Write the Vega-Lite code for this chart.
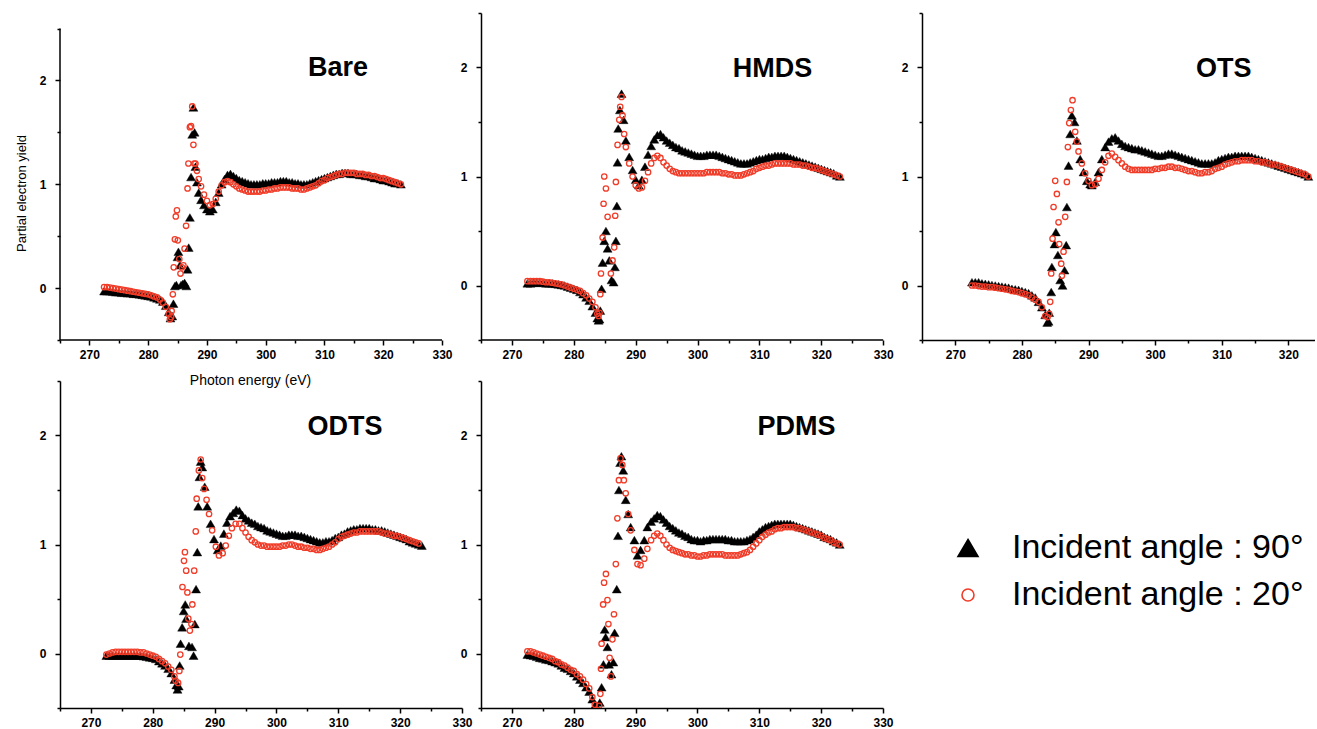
{
"$schema": "https://vega.github.io/schema/vega-lite/v6.json",
"background": "white",
"padding": {"left": 15, "top": 7, "right": 0, "bottom": 0},
"config": {
  "view": {"stroke": null},
  "font": "Liberation Sans",
  "axis": {"grid": false, "domainColor": "black", "domainWidth": 1.5, "tickColor": "black", "tickWidth": 1.5, "tickSize": 4, "labelFont": "Liberation Sans", "labelFontSize": 12, "labelFontWeight": "bold", "labelColor": "black", "titleFont": "Liberation Sans", "titleFontSize": 12, "titleFontWeight": "normal", "titleColor": "black", "labelFlush": false, "labelOverlap": false, "tickCount": 40},
  "axisX": {"labelPadding": 4, "labelExpr": "datum.value % 10 === 0 ? format(datum.value, 'd') : ''", "tickSize": {"condition": {"test": "datum.value % 10 === 0", "value": 5}, "value": 3}},
  "axisY": {"labelPadding": 9, "labelExpr": "datum.value % 1 === 0 ? format(datum.value, 'd') : ''", "tickSize": {"condition": {"test": "datum.value % 1 === 0", "value": 5}, "value": 3}}
},
"datasets": {
"B90": [{"x":272.5,"y":-0.03},{"x":273,"y":-0.03},{"x":273.5,"y":-0.03},{"x":274,"y":-0.035},{"x":274.5,"y":-0.04},{"x":275,"y":-0.04},{"x":275.5,"y":-0.045},{"x":276,"y":-0.045},{"x":276.5,"y":-0.05},{"x":277,"y":-0.05},{"x":277.5,"y":-0.055},{"x":278,"y":-0.055},{"x":278.5,"y":-0.06},{"x":279,"y":-0.065},{"x":279.5,"y":-0.07},{"x":280,"y":-0.075},{"x":280.5,"y":-0.08},{"x":281,"y":-0.09},{"x":281.5,"y":-0.1},{"x":282,"y":-0.11},{"x":282.5,"y":-0.13},{"x":283,"y":-0.17},{"x":283.5,"y":-0.23},{"x":283.8,"y":-0.29},{"x":284.1,"y":-0.27},{"x":284.3,"y":-0.15},{"x":284.55,"y":0.02},{"x":284.8,"y":0.03},{"x":285.0,"y":0.3},{"x":285.15,"y":0.35},{"x":285.4,"y":0.22},{"x":285.6,"y":0.03},{"x":285.9,"y":0.04},{"x":286.2,"y":0.05},{"x":286.5,"y":0.02},{"x":286.7,"y":0.18},{"x":286.9,"y":0.39},{"x":287.1,"y":0.68},{"x":287.3,"y":1.07},{"x":287.5,"y":1.48},{"x":287.7,"y":1.74},{"x":287.9,"y":1.5},{"x":288.05,"y":1.17},{"x":288.3,"y":1.02},{"x":288.6,"y":0.92},{"x":289,"y":0.85},{"x":289.5,"y":0.8},{"x":290,"y":0.76},{"x":290.5,"y":0.74},{"x":291,"y":0.76},{"x":291.5,"y":0.83},{"x":292,"y":0.92},{"x":292.5,"y":1.0},{"x":293,"y":1.05},{"x":293.5,"y":1.09},{"x":294,"y":1.1},{"x":294.5,"y":1.08},{"x":295,"y":1.06},{"x":295.5,"y":1.04},{"x":296,"y":1.03},{"x":296.5,"y":1.02},{"x":297,"y":1.01},{"x":297.5,"y":1.0},{"x":298,"y":1.0},{"x":298.5,"y":1.0},{"x":299,"y":1.0},{"x":299.5,"y":1.01},{"x":300,"y":1.01},{"x":300.5,"y":1.01},{"x":301,"y":1.02},{"x":301.5,"y":1.02},{"x":302,"y":1.02},{"x":302.5,"y":1.03},{"x":303,"y":1.03},{"x":303.5,"y":1.03},{"x":304,"y":1.02},{"x":304.5,"y":1.02},{"x":305,"y":1.01},{"x":305.5,"y":1.01},{"x":306,"y":1.0},{"x":306.5,"y":1.0},{"x":307,"y":1.0},{"x":307.5,"y":1.01},{"x":308,"y":1.02},{"x":308.5,"y":1.03},{"x":309,"y":1.04},{"x":309.5,"y":1.05},{"x":310,"y":1.06},{"x":310.5,"y":1.07},{"x":311,"y":1.08},{"x":311.5,"y":1.09},{"x":312,"y":1.1},{"x":312.5,"y":1.1},{"x":313,"y":1.11},{"x":313.5,"y":1.11},{"x":314,"y":1.11},{"x":314.5,"y":1.1},{"x":315,"y":1.1},{"x":315.5,"y":1.1},{"x":316,"y":1.09},{"x":316.5,"y":1.09},{"x":317,"y":1.08},{"x":317.5,"y":1.08},{"x":318,"y":1.07},{"x":318.5,"y":1.06},{"x":319,"y":1.06},{"x":319.5,"y":1.05},{"x":320,"y":1.04},{"x":320.5,"y":1.04},{"x":321,"y":1.03},{"x":321.5,"y":1.02},{"x":322,"y":1.01},{"x":322.5,"y":1.01},{"x":323,"y":1.0}],
"B20": [{"x":272.5,"y":0.01},{"x":273,"y":0.01},{"x":273.5,"y":0.005},{"x":274,"y":0.0},{"x":274.5,"y":-0.005},{"x":275,"y":-0.01},{"x":275.5,"y":-0.015},{"x":276,"y":-0.02},{"x":276.5,"y":-0.025},{"x":277,"y":-0.03},{"x":277.5,"y":-0.035},{"x":278,"y":-0.04},{"x":278.5,"y":-0.045},{"x":279,"y":-0.05},{"x":279.5,"y":-0.055},{"x":280,"y":-0.06},{"x":280.5,"y":-0.07},{"x":281,"y":-0.08},{"x":281.5,"y":-0.09},{"x":282,"y":-0.11},{"x":282.5,"y":-0.14},{"x":283,"y":-0.18},{"x":283.5,"y":-0.25},{"x":283.7,"y":-0.3},{"x":283.9,"y":-0.28},{"x":284.0,"y":-0.22},{"x":284.2,"y":-0.06},{"x":284.35,"y":0.2},{"x":284.55,"y":0.47},{"x":284.7,"y":0.69},{"x":284.9,"y":0.75},{"x":285.05,"y":0.46},{"x":285.3,"y":0.28},{"x":285.5,"y":0.14},{"x":285.75,"y":0.2},{"x":286.0,"y":0.22},{"x":286.2,"y":0.38},{"x":286.45,"y":0.6},{"x":286.7,"y":0.96},{"x":286.85,"y":1.2},{"x":287.1,"y":1.55},{"x":287.3,"y":1.56},{"x":287.5,"y":1.75},{"x":287.7,"y":1.38},{"x":287.85,"y":1.2},{"x":288.05,"y":1.2},{"x":288.3,"y":1.13},{"x":288.6,"y":1.05},{"x":289,"y":0.98},{"x":289.5,"y":0.9},{"x":290,"y":0.84},{"x":290.5,"y":0.8},{"x":291,"y":0.81},{"x":291.5,"y":0.86},{"x":292,"y":0.93},{"x":292.5,"y":0.99},{"x":293,"y":1.02},{"x":293.5,"y":1.03},{"x":294,"y":1.02},{"x":294.5,"y":1.0},{"x":295,"y":0.98},{"x":295.5,"y":0.96},{"x":296,"y":0.95},{"x":296.5,"y":0.94},{"x":297,"y":0.93},{"x":297.5,"y":0.93},{"x":298,"y":0.93},{"x":298.5,"y":0.93},{"x":299,"y":0.93},{"x":299.5,"y":0.94},{"x":300,"y":0.94},{"x":300.5,"y":0.95},{"x":301,"y":0.95},{"x":301.5,"y":0.96},{"x":302,"y":0.96},{"x":302.5,"y":0.97},{"x":303,"y":0.97},{"x":303.5,"y":0.97},{"x":304,"y":0.97},{"x":304.5,"y":0.96},{"x":305,"y":0.96},{"x":305.5,"y":0.96},{"x":306,"y":0.95},{"x":306.5,"y":0.95},{"x":307,"y":0.96},{"x":307.5,"y":0.97},{"x":308,"y":0.98},{"x":308.5,"y":0.99},{"x":309,"y":1.01},{"x":309.5,"y":1.03},{"x":310,"y":1.04},{"x":310.5,"y":1.06},{"x":311,"y":1.07},{"x":311.5,"y":1.08},{"x":312,"y":1.09},{"x":312.5,"y":1.1},{"x":313,"y":1.1},{"x":313.5,"y":1.11},{"x":314,"y":1.11},{"x":314.5,"y":1.11},{"x":315,"y":1.11},{"x":315.5,"y":1.1},{"x":316,"y":1.1},{"x":316.5,"y":1.1},{"x":317,"y":1.09},{"x":317.5,"y":1.09},{"x":318,"y":1.08},{"x":318.5,"y":1.08},{"x":319,"y":1.07},{"x":319.5,"y":1.06},{"x":320,"y":1.06},{"x":320.5,"y":1.05},{"x":321,"y":1.04},{"x":321.5,"y":1.03},{"x":322,"y":1.02},{"x":322.5,"y":1.01},{"x":323,"y":1.0}],
"H90": [{"x":272.5,"y":0.02},{"x":273,"y":0.02},{"x":273.5,"y":0.025},{"x":274,"y":0.025},{"x":274.5,"y":0.025},{"x":275,"y":0.025},{"x":275.5,"y":0.02},{"x":276,"y":0.02},{"x":276.5,"y":0.02},{"x":277,"y":0.015},{"x":277.5,"y":0.01},{"x":278,"y":0.005},{"x":278.5,"y":0.0},{"x":279,"y":-0.01},{"x":279.5,"y":-0.02},{"x":280,"y":-0.03},{"x":280.5,"y":-0.04},{"x":281,"y":-0.06},{"x":281.5,"y":-0.08},{"x":282,"y":-0.11},{"x":282.5,"y":-0.14},{"x":283,"y":-0.19},{"x":283.5,"y":-0.25},{"x":283.8,"y":-0.3},{"x":284.0,"y":-0.32},{"x":284.15,"y":-0.31},{"x":284.28,"y":-0.23},{"x":284.49,"y":-0.03},{"x":284.65,"y":0.21},{"x":284.92,"y":0.41},{"x":285.19,"y":0.5},{"x":285.46,"y":0.34},{"x":285.73,"y":0.23},{"x":286.1,"y":0.05},{"x":286.43,"y":0.03},{"x":286.64,"y":0.17},{"x":286.8,"y":0.41},{"x":286.96,"y":0.73},{"x":287.07,"y":1.13},{"x":287.18,"y":1.44},{"x":287.45,"y":1.61},{"x":287.71,"y":1.76},{"x":288.04,"y":1.52},{"x":288.41,"y":1.33},{"x":288.95,"y":1.18},{"x":289.5,"y":1.06},{"x":290,"y":0.97},{"x":290.5,"y":0.92},{"x":291,"y":0.97},{"x":291.5,"y":1.09},{"x":292,"y":1.2},{"x":292.5,"y":1.28},{"x":293,"y":1.34},{"x":293.5,"y":1.38},{"x":294,"y":1.39},{"x":294.5,"y":1.36},{"x":295,"y":1.33},{"x":295.5,"y":1.31},{"x":296,"y":1.29},{"x":296.5,"y":1.27},{"x":297,"y":1.26},{"x":297.5,"y":1.24},{"x":298,"y":1.23},{"x":298.5,"y":1.22},{"x":299,"y":1.21},{"x":299.5,"y":1.2},{"x":300,"y":1.19},{"x":300.5,"y":1.19},{"x":301,"y":1.19},{"x":301.5,"y":1.2},{"x":302,"y":1.2},{"x":302.5,"y":1.2},{"x":303,"y":1.2},{"x":303.5,"y":1.19},{"x":304,"y":1.18},{"x":304.5,"y":1.17},{"x":305,"y":1.16},{"x":305.5,"y":1.15},{"x":306,"y":1.14},{"x":306.5,"y":1.13},{"x":307,"y":1.12},{"x":307.5,"y":1.12},{"x":308,"y":1.12},{"x":308.5,"y":1.13},{"x":309,"y":1.14},{"x":309.5,"y":1.15},{"x":310,"y":1.16},{"x":310.5,"y":1.16},{"x":311,"y":1.17},{"x":311.5,"y":1.18},{"x":312,"y":1.18},{"x":312.5,"y":1.19},{"x":313,"y":1.19},{"x":313.5,"y":1.19},{"x":314,"y":1.19},{"x":314.5,"y":1.18},{"x":315,"y":1.17},{"x":315.5,"y":1.16},{"x":316,"y":1.15},{"x":316.5,"y":1.14},{"x":317,"y":1.13},{"x":317.5,"y":1.12},{"x":318,"y":1.11},{"x":318.5,"y":1.1},{"x":319,"y":1.09},{"x":319.5,"y":1.08},{"x":320,"y":1.07},{"x":320.5,"y":1.06},{"x":321,"y":1.05},{"x":321.5,"y":1.04},{"x":322,"y":1.03},{"x":322.5,"y":1.01},{"x":323,"y":1.0}],
"H20": [{"x":272.5,"y":0.04},{"x":273,"y":0.04},{"x":273.5,"y":0.04},{"x":274,"y":0.04},{"x":274.5,"y":0.04},{"x":275,"y":0.035},{"x":275.5,"y":0.03},{"x":276,"y":0.03},{"x":276.5,"y":0.025},{"x":277,"y":0.02},{"x":277.5,"y":0.015},{"x":278,"y":0.01},{"x":278.5,"y":0.0},{"x":279,"y":-0.01},{"x":279.5,"y":-0.02},{"x":280,"y":-0.03},{"x":280.5,"y":-0.04},{"x":281,"y":-0.05},{"x":281.5,"y":-0.07},{"x":282,"y":-0.09},{"x":282.5,"y":-0.12},{"x":283,"y":-0.15},{"x":283.5,"y":-0.2},{"x":283.8,"y":-0.26},{"x":284.0,"y":-0.28},{"x":284.15,"y":-0.25},{"x":284.28,"y":-0.08},{"x":284.39,"y":0.11},{"x":284.65,"y":0.44},{"x":284.81,"y":0.75},{"x":284.92,"y":1.0},{"x":285.19,"y":0.89},{"x":285.46,"y":0.63},{"x":285.99,"y":0.11},{"x":286.26,"y":0.23},{"x":286.53,"y":0.35},{"x":286.69,"y":0.64},{"x":286.8,"y":0.95},{"x":287.07,"y":1.29},{"x":287.34,"y":1.52},{"x":287.5,"y":1.64},{"x":287.71,"y":1.73},{"x":287.87,"y":1.56},{"x":288.14,"y":1.39},{"x":288.41,"y":1.27},{"x":288.95,"y":1.12},{"x":289.5,"y":1.0},{"x":290,"y":0.92},{"x":290.5,"y":0.89},{"x":291,"y":0.9},{"x":291.5,"y":0.96},{"x":292,"y":1.04},{"x":292.5,"y":1.12},{"x":293,"y":1.17},{"x":293.5,"y":1.19},{"x":294,"y":1.17},{"x":294.5,"y":1.13},{"x":295,"y":1.1},{"x":295.5,"y":1.07},{"x":296,"y":1.05},{"x":296.5,"y":1.04},{"x":297,"y":1.03},{"x":297.5,"y":1.03},{"x":298,"y":1.03},{"x":298.5,"y":1.03},{"x":299,"y":1.03},{"x":299.5,"y":1.03},{"x":300,"y":1.03},{"x":300.5,"y":1.03},{"x":301,"y":1.03},{"x":301.5,"y":1.04},{"x":302,"y":1.04},{"x":302.5,"y":1.04},{"x":303,"y":1.04},{"x":303.5,"y":1.04},{"x":304,"y":1.03},{"x":304.5,"y":1.03},{"x":305,"y":1.02},{"x":305.5,"y":1.02},{"x":306,"y":1.01},{"x":306.5,"y":1.01},{"x":307,"y":1.01},{"x":307.5,"y":1.02},{"x":308,"y":1.03},{"x":308.5,"y":1.04},{"x":309,"y":1.05},{"x":309.5,"y":1.07},{"x":310,"y":1.08},{"x":310.5,"y":1.09},{"x":311,"y":1.1},{"x":311.5,"y":1.1},{"x":312,"y":1.11},{"x":312.5,"y":1.12},{"x":313,"y":1.12},{"x":313.5,"y":1.12},{"x":314,"y":1.12},{"x":314.5,"y":1.12},{"x":315,"y":1.12},{"x":315.5,"y":1.11},{"x":316,"y":1.11},{"x":316.5,"y":1.11},{"x":317,"y":1.1},{"x":317.5,"y":1.1},{"x":318,"y":1.09},{"x":318.5,"y":1.08},{"x":319,"y":1.08},{"x":319.5,"y":1.07},{"x":320,"y":1.06},{"x":320.5,"y":1.05},{"x":321,"y":1.04},{"x":321.5,"y":1.03},{"x":322,"y":1.02},{"x":322.5,"y":1.01},{"x":323,"y":1.0}],
"O90": [{"x":272.5,"y":0.03},{"x":273,"y":0.03},{"x":273.5,"y":0.03},{"x":274,"y":0.02},{"x":274.5,"y":0.015},{"x":275,"y":0.01},{"x":275.5,"y":0.005},{"x":276,"y":0.0},{"x":276.5,"y":-0.005},{"x":277,"y":-0.01},{"x":277.5,"y":-0.015},{"x":278,"y":-0.02},{"x":278.5,"y":-0.03},{"x":279,"y":-0.035},{"x":279.5,"y":-0.04},{"x":280,"y":-0.05},{"x":280.5,"y":-0.06},{"x":281,"y":-0.07},{"x":281.5,"y":-0.09},{"x":282,"y":-0.11},{"x":282.5,"y":-0.15},{"x":283,"y":-0.2},{"x":283.5,"y":-0.27},{"x":283.8,"y":-0.34},{"x":284.0,"y":-0.33},{"x":284.1,"y":-0.25},{"x":284.4,"y":-0.06},{"x":284.5,"y":0.17},{"x":284.9,"y":0.38},{"x":285.1,"y":0.49},{"x":285.4,"y":0.28},{"x":285.75,"y":0.05},{"x":286.1,"y":0.0},{"x":286.4,"y":0.14},{"x":286.65,"y":0.37},{"x":286.75,"y":0.72},{"x":287.0,"y":1.1},{"x":287.25,"y":1.39},{"x":287.5,"y":1.56},{"x":287.9,"y":1.5},{"x":288.25,"y":1.33},{"x":288.75,"y":1.16},{"x":289.25,"y":1.04},{"x":289.75,"y":0.96},{"x":290.25,"y":0.93},{"x":290.5,"y":0.92},{"x":291,"y":0.95},{"x":291.5,"y":1.04},{"x":292,"y":1.16},{"x":292.5,"y":1.27},{"x":293,"y":1.32},{"x":293.5,"y":1.35},{"x":294,"y":1.36},{"x":294.5,"y":1.33},{"x":295,"y":1.3},{"x":295.5,"y":1.28},{"x":296,"y":1.27},{"x":296.5,"y":1.26},{"x":297,"y":1.25},{"x":297.5,"y":1.25},{"x":298,"y":1.24},{"x":298.5,"y":1.23},{"x":299,"y":1.22},{"x":299.5,"y":1.21},{"x":300,"y":1.2},{"x":300.5,"y":1.19},{"x":301,"y":1.19},{"x":301.5,"y":1.2},{"x":302,"y":1.21},{"x":302.5,"y":1.21},{"x":303,"y":1.2},{"x":303.5,"y":1.19},{"x":304,"y":1.18},{"x":304.5,"y":1.17},{"x":305,"y":1.16},{"x":305.5,"y":1.15},{"x":306,"y":1.14},{"x":306.5,"y":1.13},{"x":307,"y":1.12},{"x":307.5,"y":1.12},{"x":308,"y":1.12},{"x":308.5,"y":1.12},{"x":309,"y":1.13},{"x":309.5,"y":1.15},{"x":310,"y":1.16},{"x":310.5,"y":1.17},{"x":311,"y":1.18},{"x":311.5,"y":1.18},{"x":312,"y":1.19},{"x":312.5,"y":1.19},{"x":313,"y":1.19},{"x":313.5,"y":1.19},{"x":314,"y":1.19},{"x":314.5,"y":1.18},{"x":315,"y":1.17},{"x":315.5,"y":1.16},{"x":316,"y":1.15},{"x":316.5,"y":1.14},{"x":317,"y":1.13},{"x":317.5,"y":1.12},{"x":318,"y":1.11},{"x":318.5,"y":1.1},{"x":319,"y":1.09},{"x":319.5,"y":1.08},{"x":320,"y":1.07},{"x":320.5,"y":1.06},{"x":321,"y":1.05},{"x":321.5,"y":1.04},{"x":322,"y":1.03},{"x":322.5,"y":1.02},{"x":323,"y":1.0}],
"O20": [{"x":272.5,"y":0.0},{"x":273,"y":0.0},{"x":273.5,"y":-0.005},{"x":274,"y":-0.01},{"x":274.5,"y":-0.01},{"x":275,"y":-0.015},{"x":275.5,"y":-0.015},{"x":276,"y":-0.02},{"x":276.5,"y":-0.025},{"x":277,"y":-0.03},{"x":277.5,"y":-0.035},{"x":278,"y":-0.04},{"x":278.5,"y":-0.05},{"x":279,"y":-0.055},{"x":279.5,"y":-0.06},{"x":280,"y":-0.07},{"x":280.5,"y":-0.08},{"x":281,"y":-0.09},{"x":281.5,"y":-0.11},{"x":282,"y":-0.13},{"x":282.5,"y":-0.15},{"x":283,"y":-0.2},{"x":283.5,"y":-0.28},{"x":283.85,"y":-0.29},{"x":284.1,"y":-0.26},{"x":284.25,"y":-0.15},{"x":284.4,"y":0.11},{"x":284.6,"y":0.43},{"x":284.75,"y":0.72},{"x":285.0,"y":0.96},{"x":285.25,"y":0.84},{"x":285.5,"y":0.58},{"x":285.6,"y":0.38},{"x":285.9,"y":0.2},{"x":286.0,"y":0.09},{"x":286.25,"y":0.31},{"x":286.5,"y":0.63},{"x":286.75,"y":0.95},{"x":286.9,"y":1.27},{"x":287.1,"y":1.49},{"x":287.35,"y":1.61},{"x":287.6,"y":1.7},{"x":288.0,"y":1.41},{"x":288.25,"y":1.32},{"x":288.5,"y":1.23},{"x":289.0,"y":1.12},{"x":289.5,"y":1.03},{"x":290,"y":0.96},{"x":290.5,"y":0.92},{"x":291,"y":0.93},{"x":291.5,"y":0.98},{"x":292,"y":1.06},{"x":292.5,"y":1.13},{"x":293,"y":1.19},{"x":293.5,"y":1.21},{"x":294,"y":1.18},{"x":294.5,"y":1.15},{"x":295,"y":1.12},{"x":295.5,"y":1.09},{"x":296,"y":1.07},{"x":296.5,"y":1.06},{"x":297,"y":1.06},{"x":297.5,"y":1.06},{"x":298,"y":1.06},{"x":298.5,"y":1.06},{"x":299,"y":1.06},{"x":299.5,"y":1.06},{"x":300,"y":1.07},{"x":300.5,"y":1.07},{"x":301,"y":1.08},{"x":301.5,"y":1.08},{"x":302,"y":1.09},{"x":302.5,"y":1.09},{"x":303,"y":1.08},{"x":303.5,"y":1.08},{"x":304,"y":1.07},{"x":304.5,"y":1.06},{"x":305,"y":1.05},{"x":305.5,"y":1.05},{"x":306,"y":1.04},{"x":306.5,"y":1.03},{"x":307,"y":1.03},{"x":307.5,"y":1.04},{"x":308,"y":1.04},{"x":308.5,"y":1.05},{"x":309,"y":1.07},{"x":309.5,"y":1.08},{"x":310,"y":1.09},{"x":310.5,"y":1.11},{"x":311,"y":1.12},{"x":311.5,"y":1.13},{"x":312,"y":1.14},{"x":312.5,"y":1.14},{"x":313,"y":1.15},{"x":313.5,"y":1.15},{"x":314,"y":1.15},{"x":314.5,"y":1.15},{"x":315,"y":1.14},{"x":315.5,"y":1.14},{"x":316,"y":1.13},{"x":316.5,"y":1.13},{"x":317,"y":1.12},{"x":317.5,"y":1.11},{"x":318,"y":1.11},{"x":318.5,"y":1.1},{"x":319,"y":1.09},{"x":319.5,"y":1.08},{"x":320,"y":1.07},{"x":320.5,"y":1.06},{"x":321,"y":1.05},{"x":321.5,"y":1.04},{"x":322,"y":1.03},{"x":322.5,"y":1.02},{"x":323,"y":1.0}],
"D90": [{"x":272.5,"y":-0.02},{"x":273,"y":-0.02},{"x":273.5,"y":-0.02},{"x":274,"y":-0.02},{"x":274.5,"y":-0.02},{"x":275,"y":-0.02},{"x":275.5,"y":-0.02},{"x":276,"y":-0.02},{"x":276.5,"y":-0.02},{"x":277,"y":-0.02},{"x":277.5,"y":-0.02},{"x":278,"y":-0.02},{"x":278.5,"y":-0.025},{"x":279,"y":-0.03},{"x":279.5,"y":-0.035},{"x":280,"y":-0.04},{"x":280.5,"y":-0.05},{"x":281,"y":-0.07},{"x":281.5,"y":-0.09},{"x":282,"y":-0.11},{"x":282.5,"y":-0.14},{"x":283,"y":-0.18},{"x":283.5,"y":-0.24},{"x":283.8,"y":-0.29},{"x":284.0,"y":-0.33},{"x":284.2,"y":-0.3},{"x":284.35,"y":-0.11},{"x":284.5,"y":0.09},{"x":284.75,"y":0.24},{"x":285.0,"y":0.39},{"x":285.25,"y":0.45},{"x":285.4,"y":0.32},{"x":285.85,"y":0.07},{"x":286.35,"y":0.06},{"x":286.6,"y":-0.02},{"x":286.8,"y":0.27},{"x":287.0,"y":0.59},{"x":287.2,"y":0.93},{"x":287.35,"y":1.35},{"x":287.55,"y":1.62},{"x":287.75,"y":1.76},{"x":288.0,"y":1.71},{"x":288.4,"y":1.53},{"x":288.8,"y":1.35},{"x":289.35,"y":1.19},{"x":289.9,"y":1.05},{"x":290.5,"y":0.95},{"x":291,"y":0.99},{"x":291.5,"y":1.1},{"x":292,"y":1.2},{"x":292.5,"y":1.26},{"x":293,"y":1.29},{"x":293.5,"y":1.32},{"x":294,"y":1.31},{"x":294.5,"y":1.27},{"x":295,"y":1.24},{"x":295.5,"y":1.22},{"x":296,"y":1.2},{"x":296.5,"y":1.19},{"x":297,"y":1.17},{"x":297.5,"y":1.16},{"x":298,"y":1.15},{"x":298.5,"y":1.13},{"x":299,"y":1.12},{"x":299.5,"y":1.11},{"x":300,"y":1.1},{"x":300.5,"y":1.09},{"x":301,"y":1.08},{"x":301.5,"y":1.08},{"x":302,"y":1.09},{"x":302.5,"y":1.09},{"x":303,"y":1.09},{"x":303.5,"y":1.08},{"x":304,"y":1.08},{"x":304.5,"y":1.07},{"x":305,"y":1.06},{"x":305.5,"y":1.05},{"x":306,"y":1.04},{"x":306.5,"y":1.03},{"x":307,"y":1.02},{"x":307.5,"y":1.02},{"x":308,"y":1.03},{"x":308.5,"y":1.03},{"x":309,"y":1.04},{"x":309.5,"y":1.06},{"x":310,"y":1.07},{"x":310.5,"y":1.09},{"x":311,"y":1.1},{"x":311.5,"y":1.12},{"x":312,"y":1.13},{"x":312.5,"y":1.14},{"x":313,"y":1.14},{"x":313.5,"y":1.15},{"x":314,"y":1.15},{"x":314.5,"y":1.15},{"x":315,"y":1.15},{"x":315.5,"y":1.14},{"x":316,"y":1.14},{"x":316.5,"y":1.13},{"x":317,"y":1.13},{"x":317.5,"y":1.12},{"x":318,"y":1.11},{"x":318.5,"y":1.1},{"x":319,"y":1.09},{"x":319.5,"y":1.08},{"x":320,"y":1.07},{"x":320.5,"y":1.06},{"x":321,"y":1.05},{"x":321.5,"y":1.03},{"x":322,"y":1.02},{"x":322.5,"y":1.01},{"x":323,"y":1.0},{"x":323.5,"y":0.99}],
"D20": [{"x":272.5,"y":-0.01},{"x":273,"y":0.0},{"x":273.5,"y":0.01},{"x":274,"y":0.015},{"x":274.5,"y":0.015},{"x":275,"y":0.015},{"x":275.5,"y":0.015},{"x":276,"y":0.015},{"x":276.5,"y":0.015},{"x":277,"y":0.015},{"x":277.5,"y":0.015},{"x":278,"y":0.01},{"x":278.5,"y":0.01},{"x":279,"y":0.0},{"x":279.5,"y":-0.01},{"x":280,"y":-0.02},{"x":280.5,"y":-0.03},{"x":281,"y":-0.05},{"x":281.5,"y":-0.07},{"x":282,"y":-0.09},{"x":282.5,"y":-0.12},{"x":283,"y":-0.15},{"x":283.5,"y":-0.21},{"x":283.7,"y":-0.25},{"x":284.1,"y":-0.27},{"x":284.3,"y":-0.16},{"x":284.45,"y":-0.01},{"x":284.8,"y":0.61},{"x":285.05,"y":0.85},{"x":285.2,"y":0.93},{"x":285.4,"y":0.76},{"x":285.6,"y":0.56},{"x":285.75,"y":0.32},{"x":286.0,"y":0.21},{"x":286.25,"y":0.27},{"x":286.4,"y":0.45},{"x":286.7,"y":0.76},{"x":286.95,"y":1.12},{"x":287.1,"y":1.42},{"x":287.45,"y":1.68},{"x":287.75,"y":1.78},{"x":288.0,"y":1.61},{"x":288.3,"y":1.51},{"x":288.7,"y":1.41},{"x":289.1,"y":1.28},{"x":289.6,"y":1.13},{"x":290.2,"y":0.98},{"x":290.7,"y":0.9},{"x":291.3,"y":0.92},{"x":291.8,"y":0.99},{"x":292.3,"y":1.08},{"x":292.8,"y":1.15},{"x":293.4,"y":1.19},{"x":294,"y":1.19},{"x":294.5,"y":1.15},{"x":295,"y":1.11},{"x":295.5,"y":1.07},{"x":296,"y":1.04},{"x":296.5,"y":1.02},{"x":297,"y":1.0},{"x":297.5,"y":0.99},{"x":298,"y":0.99},{"x":298.5,"y":0.98},{"x":299,"y":0.98},{"x":299.5,"y":0.98},{"x":300,"y":0.98},{"x":300.5,"y":0.98},{"x":301,"y":0.99},{"x":301.5,"y":0.99},{"x":302,"y":1.0},{"x":302.5,"y":1.0},{"x":303,"y":0.99},{"x":303.5,"y":0.98},{"x":304,"y":0.98},{"x":304.5,"y":0.97},{"x":305,"y":0.97},{"x":305.5,"y":0.96},{"x":306,"y":0.96},{"x":306.5,"y":0.95},{"x":307,"y":0.95},{"x":307.5,"y":0.96},{"x":308,"y":0.97},{"x":308.5,"y":0.98},{"x":309,"y":1.0},{"x":309.5,"y":1.02},{"x":310,"y":1.05},{"x":310.5,"y":1.07},{"x":311,"y":1.08},{"x":311.5,"y":1.09},{"x":312,"y":1.1},{"x":312.5,"y":1.11},{"x":313,"y":1.11},{"x":313.5,"y":1.12},{"x":314,"y":1.12},{"x":314.5,"y":1.12},{"x":315,"y":1.12},{"x":315.5,"y":1.12},{"x":316,"y":1.12},{"x":316.5,"y":1.12},{"x":317,"y":1.11},{"x":317.5,"y":1.1},{"x":318,"y":1.1},{"x":318.5,"y":1.09},{"x":319,"y":1.08},{"x":319.5,"y":1.08},{"x":320,"y":1.07},{"x":320.5,"y":1.06},{"x":321,"y":1.05},{"x":321.5,"y":1.04},{"x":322,"y":1.03},{"x":322.5,"y":1.02},{"x":323,"y":1.01}],
"P90": [{"x":272.5,"y":-0.01},{"x":273,"y":-0.015},{"x":273.5,"y":-0.02},{"x":274,"y":-0.03},{"x":274.5,"y":-0.04},{"x":275,"y":-0.045},{"x":275.5,"y":-0.055},{"x":276,"y":-0.06},{"x":276.5,"y":-0.07},{"x":277,"y":-0.08},{"x":277.5,"y":-0.09},{"x":278,"y":-0.11},{"x":278.5,"y":-0.13},{"x":279,"y":-0.14},{"x":279.5,"y":-0.16},{"x":280,"y":-0.18},{"x":280.5,"y":-0.21},{"x":281,"y":-0.24},{"x":281.5,"y":-0.27},{"x":282,"y":-0.31},{"x":282.5,"y":-0.35},{"x":283,"y":-0.42},{"x":283.5,"y":-0.47},{"x":283.8,"y":-0.51},{"x":284.2,"y":-0.45},{"x":284.5,"y":-0.31},{"x":284.8,"y":-0.1},{"x":285.0,"y":0.22},{"x":285.15,"y":0.15},{"x":285.45,"y":0.06},{"x":285.7,"y":-0.1},{"x":286.1,"y":-0.19},{"x":286.4,"y":-0.08},{"x":286.6,"y":0.19},{"x":286.95,"y":0.59},{"x":287.15,"y":1.08},{"x":287.3,"y":1.5},{"x":287.5,"y":1.75},{"x":287.7,"y":1.81},{"x":288.0,"y":1.68},{"x":288.4,"y":1.41},{"x":288.8,"y":1.28},{"x":289.2,"y":1.16},{"x":289.8,"y":1.04},{"x":290.3,"y":0.9},{"x":290.8,"y":0.95},{"x":291.4,"y":1.04},{"x":291.9,"y":1.16},{"x":292.5,"y":1.21},{"x":293,"y":1.24},{"x":293.5,"y":1.27},{"x":294,"y":1.26},{"x":294.5,"y":1.23},{"x":295,"y":1.2},{"x":295.5,"y":1.17},{"x":296,"y":1.15},{"x":296.5,"y":1.13},{"x":297,"y":1.11},{"x":297.5,"y":1.1},{"x":298,"y":1.08},{"x":298.5,"y":1.07},{"x":299,"y":1.05},{"x":299.5,"y":1.04},{"x":300,"y":1.04},{"x":300.5,"y":1.03},{"x":301,"y":1.04},{"x":301.5,"y":1.04},{"x":302,"y":1.05},{"x":302.5,"y":1.05},{"x":303,"y":1.05},{"x":303.5,"y":1.05},{"x":304,"y":1.05},{"x":304.5,"y":1.05},{"x":305,"y":1.04},{"x":305.5,"y":1.04},{"x":306,"y":1.03},{"x":306.5,"y":1.03},{"x":307,"y":1.03},{"x":307.5,"y":1.03},{"x":308,"y":1.04},{"x":308.5,"y":1.05},{"x":309,"y":1.07},{"x":309.5,"y":1.09},{"x":310,"y":1.12},{"x":310.5,"y":1.14},{"x":311,"y":1.16},{"x":311.5,"y":1.17},{"x":312,"y":1.18},{"x":312.5,"y":1.19},{"x":313,"y":1.19},{"x":313.5,"y":1.19},{"x":314,"y":1.19},{"x":314.5,"y":1.19},{"x":315,"y":1.19},{"x":315.5,"y":1.18},{"x":316,"y":1.17},{"x":316.5,"y":1.16},{"x":317,"y":1.15},{"x":317.5,"y":1.14},{"x":318,"y":1.13},{"x":318.5,"y":1.12},{"x":319,"y":1.11},{"x":319.5,"y":1.1},{"x":320,"y":1.09},{"x":320.5,"y":1.07},{"x":321,"y":1.06},{"x":321.5,"y":1.05},{"x":322,"y":1.03},{"x":322.5,"y":1.02},{"x":323,"y":1.0}],
"P20": [{"x":272.5,"y":0.02},{"x":273,"y":0.02},{"x":273.5,"y":0.01},{"x":274,"y":0.0},{"x":274.5,"y":-0.01},{"x":275,"y":-0.02},{"x":275.5,"y":-0.03},{"x":276,"y":-0.04},{"x":276.5,"y":-0.05},{"x":277,"y":-0.07},{"x":277.5,"y":-0.08},{"x":278,"y":-0.1},{"x":278.5,"y":-0.11},{"x":279,"y":-0.13},{"x":279.5,"y":-0.15},{"x":280,"y":-0.16},{"x":280.5,"y":-0.19},{"x":281,"y":-0.21},{"x":281.5,"y":-0.24},{"x":282,"y":-0.28},{"x":282.5,"y":-0.32},{"x":283,"y":-0.4},{"x":283.4,"y":-0.47},{"x":283.7,"y":-0.52},{"x":284.1,"y":-0.48},{"x":284.3,"y":-0.37},{"x":284.4,"y":-0.14},{"x":284.5,"y":0.09},{"x":284.75,"y":0.45},{"x":284.9,"y":0.65},{"x":285.2,"y":0.73},{"x":285.45,"y":0.49},{"x":285.6,"y":0.27},{"x":285.8,"y":-0.04},{"x":286.0,"y":-0.21},{"x":286.25,"y":0.13},{"x":286.5,"y":0.36},{"x":286.8,"y":0.82},{"x":287.05,"y":1.24},{"x":287.3,"y":1.59},{"x":287.55,"y":1.79},{"x":287.85,"y":1.73},{"x":288.1,"y":1.59},{"x":288.4,"y":1.47},{"x":288.8,"y":1.28},{"x":289.2,"y":1.13},{"x":289.8,"y":0.95},{"x":290.3,"y":0.82},{"x":290.8,"y":0.81},{"x":291.4,"y":0.87},{"x":291.9,"y":0.96},{"x":292.5,"y":1.04},{"x":293,"y":1.08},{"x":293.5,"y":1.1},{"x":294,"y":1.08},{"x":294.5,"y":1.04},{"x":295,"y":1.0},{"x":295.5,"y":0.97},{"x":296,"y":0.95},{"x":296.5,"y":0.94},{"x":297,"y":0.93},{"x":297.5,"y":0.92},{"x":298,"y":0.91},{"x":298.5,"y":0.91},{"x":299,"y":0.9},{"x":299.5,"y":0.9},{"x":300,"y":0.89},{"x":300.5,"y":0.89},{"x":301,"y":0.9},{"x":301.5,"y":0.9},{"x":302,"y":0.91},{"x":302.5,"y":0.91},{"x":303,"y":0.91},{"x":303.5,"y":0.91},{"x":304,"y":0.91},{"x":304.5,"y":0.9},{"x":305,"y":0.9},{"x":305.5,"y":0.9},{"x":306,"y":0.9},{"x":306.5,"y":0.9},{"x":307,"y":0.91},{"x":307.5,"y":0.92},{"x":308,"y":0.93},{"x":308.5,"y":0.95},{"x":309,"y":0.98},{"x":309.5,"y":1.01},{"x":310,"y":1.04},{"x":310.5,"y":1.07},{"x":311,"y":1.09},{"x":311.5,"y":1.11},{"x":312,"y":1.12},{"x":312.5,"y":1.14},{"x":313,"y":1.15},{"x":313.5,"y":1.15},{"x":314,"y":1.16},{"x":314.5,"y":1.16},{"x":315,"y":1.16},{"x":315.5,"y":1.16},{"x":316,"y":1.15},{"x":316.5,"y":1.15},{"x":317,"y":1.14},{"x":317.5,"y":1.13},{"x":318,"y":1.12},{"x":318.5,"y":1.11},{"x":319,"y":1.1},{"x":319.5,"y":1.09},{"x":320,"y":1.08},{"x":320.5,"y":1.06},{"x":321,"y":1.05},{"x":321.5,"y":1.04},{"x":322,"y":1.02},{"x":322.5,"y":1.01},{"x":323,"y":1.0}]
},
"columns": 3,
"spacing": {"row": 41, "column": 19},
"bounds": "flush",
"align": "none",
"concat": [
{
 "width": 402, "height": 327,
 "layer": [
  {"data": {"name": "B90"}, "mark": {"type": "point", "filled": true, "strokeWidth": 0.4, "size": 81, "opacity": 1, "clip": true},
   "encoding": {
    "x": {"field": "x", "type": "quantitative", "scale": {"domain": [265, 333.4], "nice": false, "zero": false}, "axis": {"title": "Photon energy (eV)", "titleFontSize": 14, "titlePadding": 13, "titleX": 190, "domain": false, "values": [265,270,275,280,285,290,295,300,305,310,315,320,325,330]}},
    "y": {"field": "y", "type": "quantitative", "scale": {"domain": [-0.5, 2.65], "nice": false, "zero": false}, "axis": {"title": "Partial electron yield", "titleFontSize": 13, "titlePadding": 11, "titleY": 180, "domain": false, "values": [-0.5,0,0.5,1,1.5,2,2.5]}},
    "shape": {"datum": "Incident angle : 90°", "type": "nominal", "scale": {"domain": ["Incident angle : 90°", "Incident angle : 20°"], "range": ["M0,-0.85L1,0.85L-1,0.85Z", "M0.6,0A0.6,0.6,0,1,1,-0.6,0A0.6,0.6,0,1,1,0.6,0Z"]}, "legend": {"title": null, "orient": "none", "legendX": 891, "legendY": 518, "symbolSize": 400, "symbolStrokeWidth": 1.6, "labelFont": "Liberation Sans", "labelFontSize": 34, "labelColor": "black", "labelOffset": 27, "labelLimit": 600, "rowPadding": 13, "padding": 0, "symbolOpacity": 1}},
    "fill": {"datum": "Incident angle : 90°", "type": "nominal", "scale": {"domain": ["Incident angle : 90°", "Incident angle : 20°"], "range": ["black", "transparent"]}, "legend": {"title": null, "orient": "none", "legendX": 891, "legendY": 518, "symbolSize": 400, "symbolStrokeWidth": 1.6, "labelFont": "Liberation Sans", "labelFontSize": 34, "labelColor": "black", "labelOffset": 27, "labelLimit": 600, "rowPadding": 13, "padding": 0, "symbolOpacity": 1}},
    "stroke": {"datum": "Incident angle : 90°", "type": "nominal", "scale": {"domain": ["Incident angle : 90°", "Incident angle : 20°"], "range": ["black", "#f03c28"]}, "legend": {"title": null, "orient": "none", "legendX": 891, "legendY": 518, "symbolSize": 400, "symbolStrokeWidth": 1.6, "labelFont": "Liberation Sans", "labelFontSize": 34, "labelColor": "black", "labelOffset": 27, "labelLimit": 600, "rowPadding": 13, "padding": 0, "symbolOpacity": 1}}
   }},
  {"data": {"name": "B20"}, "mark": {"type": "point", "filled": true, "strokeWidth": 1.3, "size": 81, "opacity": 1, "clip": true},
   "encoding": {
    "x": {"field": "x", "type": "quantitative", "scale": {"domain": [265, 333.4], "nice": false, "zero": false}},
    "y": {"field": "y", "type": "quantitative", "scale": {"domain": [-0.5, 2.65], "nice": false, "zero": false}},
    "shape": {"datum": "Incident angle : 20°", "type": "nominal"},
    "fill": {"datum": "Incident angle : 20°", "type": "nominal"},
    "stroke": {"datum": "Incident angle : 20°", "type": "nominal"}
   }},
  {"data": {"values": [{}]}, "mark": {"type": "rule", "color": "black", "strokeWidth": 1.5},
   "encoding": {"x": {"datum": 265, "type": "quantitative"}, "y": {"datum": -0.5, "type": "quantitative"}, "y2": {"datum": 2.5}}},
  {"data": {"values": [{}]}, "mark": {"type": "rule", "color": "black", "strokeWidth": 1.5},
   "encoding": {"x": {"datum": 265, "type": "quantitative"}, "x2": {"datum": 330}, "y": {"datum": -0.5, "type": "quantitative"}}},
  {"data": {"values": [{"panel": "Bare"}]}, "mark": {"type": "text", "font": "Liberation Sans", "fontSize": 27, "fontWeight": "bold", "color": "black", "align": "center", "baseline": "middle"},
   "encoding": {"x": {"datum": 312.3, "type": "quantitative"}, "y": {"datum": 2.12, "type": "quantitative"}, "text": {"field": "panel"}}}
 ]
},
{
 "width": 422, "height": 327,
 "layer": [
  {"data": {"name": "H90"}, "mark": {"type": "point", "filled": true, "strokeWidth": 0.4, "size": 81, "opacity": 1, "clip": true},
   "encoding": {
    "x": {"field": "x", "type": "quantitative", "scale": {"domain": [265, 333.2], "nice": false, "zero": false}, "axis": {"title": null, "domain": false, "values": [265,270,275,280,285,290,295,300,305,310,315,320,325,330]}},
    "y": {"field": "y", "type": "quantitative", "scale": {"domain": [-0.5, 2.5], "nice": false, "zero": false}, "axis": {"title": null, "values": [-0.5,0,0.5,1,1.5,2,2.5]}},
    "shape": {"datum": "Incident angle : 90°", "type": "nominal"},
    "fill": {"datum": "Incident angle : 90°", "type": "nominal"},
    "stroke": {"datum": "Incident angle : 90°", "type": "nominal"}
   }},
  {"data": {"name": "H20"}, "mark": {"type": "point", "filled": true, "strokeWidth": 1.3, "size": 81, "opacity": 1, "clip": true},
   "encoding": {
    "x": {"field": "x", "type": "quantitative", "scale": {"domain": [265, 333.2], "nice": false, "zero": false}},
    "y": {"field": "y", "type": "quantitative", "scale": {"domain": [-0.5, 2.5], "nice": false, "zero": false}},
    "shape": {"datum": "Incident angle : 20°", "type": "nominal"},
    "fill": {"datum": "Incident angle : 20°", "type": "nominal"},
    "stroke": {"datum": "Incident angle : 20°", "type": "nominal"}
   }},
  {"data": {"values": [{}]}, "mark": {"type": "rule", "color": "black", "strokeWidth": 1.5},
   "encoding": {"x": {"datum": 265, "type": "quantitative"}, "x2": {"datum": 330}, "y": {"datum": -0.5, "type": "quantitative"}}},
  {"data": {"values": [{"panel": "HMDS"}]}, "mark": {"type": "text", "font": "Liberation Sans", "fontSize": 27, "fontWeight": "bold", "color": "black", "align": "center", "baseline": "middle"},
   "encoding": {"x": {"datum": 312.1, "type": "quantitative"}, "y": {"datum": 1.99, "type": "quantitative"}, "text": {"field": "panel"}}}
 ]
},
{
 "width": 393, "height": 327,
 "layer": [
  {"data": {"name": "O90"}, "mark": {"type": "point", "filled": true, "strokeWidth": 0.4, "size": 81, "opacity": 1, "clip": true},
   "encoding": {
    "x": {"field": "x", "type": "quantitative", "scale": {"domain": [265, 324], "nice": false, "zero": false}, "axis": {"title": null, "values": [265,270,275,280,285,290,295,300,305,310,315,320]}},
    "y": {"field": "y", "type": "quantitative", "scale": {"domain": [-0.5, 2.5], "nice": false, "zero": false}, "axis": {"title": null, "values": [-0.5,0,0.5,1,1.5,2,2.5]}},
    "shape": {"datum": "Incident angle : 90°", "type": "nominal"},
    "fill": {"datum": "Incident angle : 90°", "type": "nominal"},
    "stroke": {"datum": "Incident angle : 90°", "type": "nominal"}
   }},
  {"data": {"name": "O20"}, "mark": {"type": "point", "filled": true, "strokeWidth": 1.3, "size": 81, "opacity": 1, "clip": true},
   "encoding": {
    "x": {"field": "x", "type": "quantitative", "scale": {"domain": [265, 324], "nice": false, "zero": false}},
    "y": {"field": "y", "type": "quantitative", "scale": {"domain": [-0.5, 2.5], "nice": false, "zero": false}},
    "shape": {"datum": "Incident angle : 20°", "type": "nominal"},
    "fill": {"datum": "Incident angle : 20°", "type": "nominal"},
    "stroke": {"datum": "Incident angle : 20°", "type": "nominal"}
   }},
  {"data": {"values": [{"panel": "OTS"}]}, "mark": {"type": "text", "font": "Liberation Sans", "fontSize": 27, "fontWeight": "bold", "color": "black", "align": "center", "baseline": "middle"},
   "encoding": {"x": {"datum": 310.3, "type": "quantitative"}, "y": {"datum": 1.99, "type": "quantitative"}, "text": {"field": "panel"}}}
 ]
},
{
 "width": 402, "height": 327,
 "layer": [
  {"data": {"name": "D90"}, "mark": {"type": "point", "filled": true, "strokeWidth": 0.4, "size": 81, "opacity": 1, "clip": true},
   "encoding": {
    "x": {"field": "x", "type": "quantitative", "scale": {"domain": [265, 330], "nice": false, "zero": false}, "axis": {"title": null, "values": [265,270,275,280,285,290,295,300,305,310,315,320,325,330]}},
    "y": {"field": "y", "type": "quantitative", "scale": {"domain": [-0.5, 2.5], "nice": false, "zero": false}, "axis": {"title": null, "values": [-0.5,0,0.5,1,1.5,2,2.5]}},
    "shape": {"datum": "Incident angle : 90°", "type": "nominal"},
    "fill": {"datum": "Incident angle : 90°", "type": "nominal"},
    "stroke": {"datum": "Incident angle : 90°", "type": "nominal"}
   }},
  {"data": {"name": "D20"}, "mark": {"type": "point", "filled": true, "strokeWidth": 1.3, "size": 81, "opacity": 1, "clip": true},
   "encoding": {
    "x": {"field": "x", "type": "quantitative", "scale": {"domain": [265, 330], "nice": false, "zero": false}},
    "y": {"field": "y", "type": "quantitative", "scale": {"domain": [-0.5, 2.5], "nice": false, "zero": false}},
    "shape": {"datum": "Incident angle : 20°", "type": "nominal"},
    "fill": {"datum": "Incident angle : 20°", "type": "nominal"},
    "stroke": {"datum": "Incident angle : 20°", "type": "nominal"}
   }},
  {"data": {"values": [{"panel": "ODTS"}]}, "mark": {"type": "text", "font": "Liberation Sans", "fontSize": 27, "fontWeight": "bold", "color": "black", "align": "center", "baseline": "middle"},
   "encoding": {"x": {"datum": 311.1, "type": "quantitative"}, "y": {"datum": 2.08, "type": "quantitative"}, "text": {"field": "panel"}}}
 ]
},
{
 "width": 402, "height": 327,
 "layer": [
  {"data": {"name": "P90"}, "mark": {"type": "point", "filled": true, "strokeWidth": 0.4, "size": 81, "opacity": 1, "clip": true},
   "encoding": {
    "x": {"field": "x", "type": "quantitative", "scale": {"domain": [265, 330], "nice": false, "zero": false}, "axis": {"title": null, "values": [265,270,275,280,285,290,295,300,305,310,315,320,325,330]}},
    "y": {"field": "y", "type": "quantitative", "scale": {"domain": [-0.5, 2.5], "nice": false, "zero": false}, "axis": {"title": null, "values": [-0.5,0,0.5,1,1.5,2,2.5]}},
    "shape": {"datum": "Incident angle : 90°", "type": "nominal"},
    "fill": {"datum": "Incident angle : 90°", "type": "nominal"},
    "stroke": {"datum": "Incident angle : 90°", "type": "nominal"}
   }},
  {"data": {"name": "P20"}, "mark": {"type": "point", "filled": true, "strokeWidth": 1.3, "size": 81, "opacity": 1, "clip": true},
   "encoding": {
    "x": {"field": "x", "type": "quantitative", "scale": {"domain": [265, 330], "nice": false, "zero": false}},
    "y": {"field": "y", "type": "quantitative", "scale": {"domain": [-0.5, 2.5], "nice": false, "zero": false}},
    "shape": {"datum": "Incident angle : 20°", "type": "nominal"},
    "fill": {"datum": "Incident angle : 20°", "type": "nominal"},
    "stroke": {"datum": "Incident angle : 20°", "type": "nominal"}
   }},
  {"data": {"values": [{"panel": "PDMS"}]}, "mark": {"type": "text", "font": "Liberation Sans", "fontSize": 27, "fontWeight": "bold", "color": "black", "align": "center", "baseline": "middle"},
   "encoding": {"x": {"datum": 316.0, "type": "quantitative"}, "y": {"datum": 2.08, "type": "quantitative"}, "text": {"field": "panel"}}}
 ]
}
]
}
